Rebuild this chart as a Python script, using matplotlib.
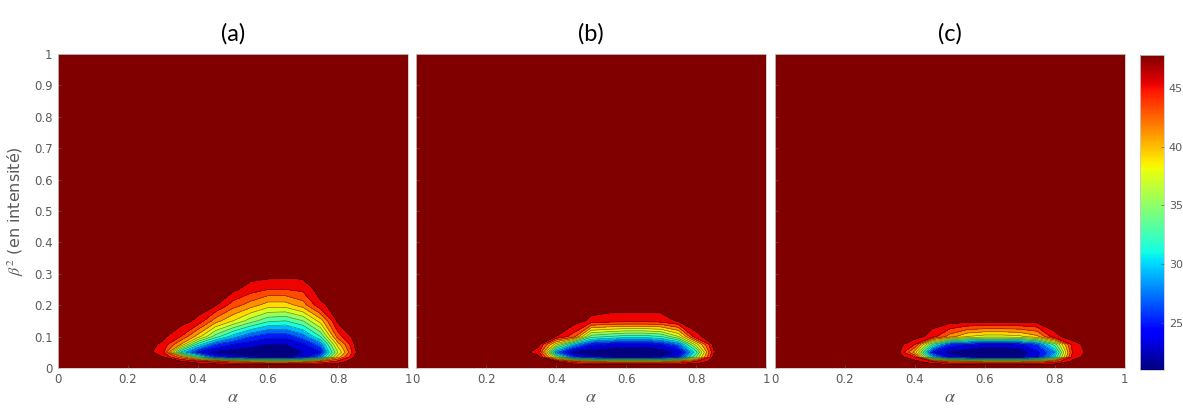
"""Three contourf panels (alpha vs beta^2) sharing a jet colorbar."""
import numpy as np
import matplotlib
matplotlib.use("Agg")
import matplotlib.pyplot as plt
from matplotlib.colors import Normalize
from matplotlib.cm import ScalarMappable

plt.rcParams["mathtext.fontset"] = "stix"

# grid (interior only; outside is saturated)
ALPHA = [0.30, 0.35, 0.40, 0.45, 0.50, 0.55, 0.60, 0.65, 0.70, 0.75, 0.80, 0.85]
BETA = [0.01, 0.02, 0.035, 0.05, 0.075, 0.10, 0.15, 0.20, 0.25, 0.30]
ZSAT = 48.0

# one list per alpha column, values along BETA
cols_a = [
    [48, 48, 47, 45.5, 46.5, 47.5, 48, 48, 48, 48],
    [48, 47.5, 42, 31, 41, 45, 48, 48, 48, 48],
    [48, 46, 33, 25, 32, 40, 46.5, 48, 48, 48],
    [48, 44, 26, 22.5, 27, 34, 42, 47.2, 48, 48],
    [48, 42, 24, 22, 25, 30, 39, 44, 47.5, 48],
    [48, 40, 23, 21.5, 24, 27, 36, 42, 46, 48],
    [48, 39, 22.5, 21.3, 23, 25.5, 33.5, 40, 45, 48],
    [48, 39, 22.5, 21.5, 23, 25.5, 33, 40, 45, 47.8],
    [48, 40, 24, 23, 24.5, 28, 35, 42, 45.5, 47.8],
    [48, 43, 28, 25, 28, 33, 40, 46.5, 48, 48],
    [48, 46, 40, 37, 40, 44, 47.5, 48, 48, 48],
    [48, 48, 47.5, 46.8, 47.5, 48, 48, 48, 48, 48],
]
cols_b = [
    [48, 48, 48, 48, 48, 48, 48, 48, 48, 48],
    [48, 48, 47.5, 46, 47.5, 48, 48, 48, 48, 48],
    [48, 47, 36, 28, 38, 47, 48, 48, 48, 48],
    [48, 43, 26, 22.5, 30, 44, 48, 48, 48, 48],
    [48, 41, 23.5, 21.8, 25.5, 34, 46.5, 48, 48, 48],
    [48, 40, 22.8, 21.5, 24.5, 33, 46, 48, 48, 48],
    [48, 40, 22.5, 21.3, 24, 32, 45.8, 48, 48, 48],
    [48, 40, 22.5, 21.3, 24, 32, 45.8, 48, 48, 48],
    [48, 40, 23, 21.8, 25, 33, 46, 48, 48, 48],
    [48, 42, 25, 23.5, 28, 37, 47.3, 48, 48, 48],
    [48, 45, 35, 32, 38, 46.5, 48, 48, 48, 48],
    [48, 48, 47.5, 46.8, 47.5, 48, 48, 48, 48, 48],
]
cols_c = [
    [48, 48, 48, 48, 48, 48, 48, 48, 48, 48],
    [48, 48, 48, 48, 48, 48, 48, 48, 48, 48],
    [48, 48, 45, 40, 45, 48, 48, 48, 48, 48],
    [48, 45, 30, 25, 33, 46, 48, 48, 48, 48],
    [48, 42, 24, 22.5, 26, 42, 48, 48, 48, 48],
    [48, 41, 23, 21.8, 25, 39, 48, 48, 48, 48],
    [48, 40, 22.5, 21.3, 24, 38, 48, 48, 48, 48],
    [48, 40, 22.5, 21.3, 24, 38, 48, 48, 48, 48],
    [48, 40, 22.5, 21.8, 24.5, 38.5, 48, 48, 48, 48],
    [48, 41, 24.5, 24.5, 27, 40.5, 48, 48, 48, 48],
    [48, 44, 31, 29, 34, 46.5, 48, 48, 48, 48],
    [48, 47.5, 46, 45, 46, 48, 48, 48, 48, 48],
]
titles = ["(a)", "(b)", "(c)"]
cbar_ticks = [25, 30, 35, 40, 45]

alpha_full = np.r_[0.0, 0.25, ALPHA, 0.9, 1.0]
beta_full = np.r_[0.0, BETA, 0.35, 1.0]

def full_grid(cols):
    z = np.array(cols, float).T
    return np.pad(z, ((1, 2), (2, 2)), constant_values=ZSAT)

levels = list(range(21, 48, 2)) + [50]
norm_bands = Normalize(21, 47.5)
cmap = plt.get_cmap("jet")
band_colors = [cmap(norm_bands(l)) for l in levels[:-2]] + [cmap(1.0)]

grey = "#5a5a5a"
fig = plt.figure(figsize=(11.83, 4.12), dpi=100)
lefts = [0.049, 0.3517, 0.655]
axes = [fig.add_axes([l, 0.107, 0.2959, 0.762]) for l in lefts]

for ax, cols, t in zip(axes, [cols_a, cols_b, cols_c], titles):
    Z = full_grid(cols)
    ax.contourf(alpha_full, beta_full, Z, levels=levels, colors=band_colors)
    ax.contour(alpha_full, beta_full, Z, levels=levels[1:-1], colors="k",
               linewidths=0.45, alpha=0.5)
    ax.set_xlim(0, 1)
    ax.set_ylim(0, 1)
    ax.set_xticks(np.arange(0, 1.01, 0.2))
    ax.set_xticklabels(["0", "0.2", "0.4", "0.6", "0.8", "1"])
    ax.set_yticks(np.arange(0, 1.01, 0.1))
    ax.tick_params(direction="in", length=2, width=0.5, colors=grey, labelsize=8.5,
                   labelcolor=grey, pad=4)
    for s in ax.spines.values():
        s.set_color("#c8c8c8")
        s.set_linewidth(0.6)
    ax.set_xlabel(r"$\alpha$", fontsize=13, color=grey, labelpad=1)
    ax.set_title(t, fontsize=17, family="Lato", pad=10)

axes[0].set_yticklabels(["0", "0.1", "0.2", "0.3", "0.4", "0.5", "0.6", "0.7", "0.8", "0.9", "1"])
for ax in axes[1:]:
    ax.set_yticklabels([])
axes[0].set_ylabel(r"$\beta^2$ (en intensité)", fontsize=11.5, color=grey, labelpad=6)

cax = fig.add_axes([0.9637, 0.102, 0.0203, 0.765])
cb = fig.colorbar(ScalarMappable(norm=Normalize(21, 47.8), cmap=cmap), cax=cax)
cb.set_ticks(cbar_ticks)
cb.ax.tick_params(direction="in", length=2, width=0.5, colors=grey, labelsize=8)
cb.outline.set_edgecolor("#c8c8c8")
cb.outline.set_linewidth(0.6)

fig.savefig("out.png", dpi=100)
